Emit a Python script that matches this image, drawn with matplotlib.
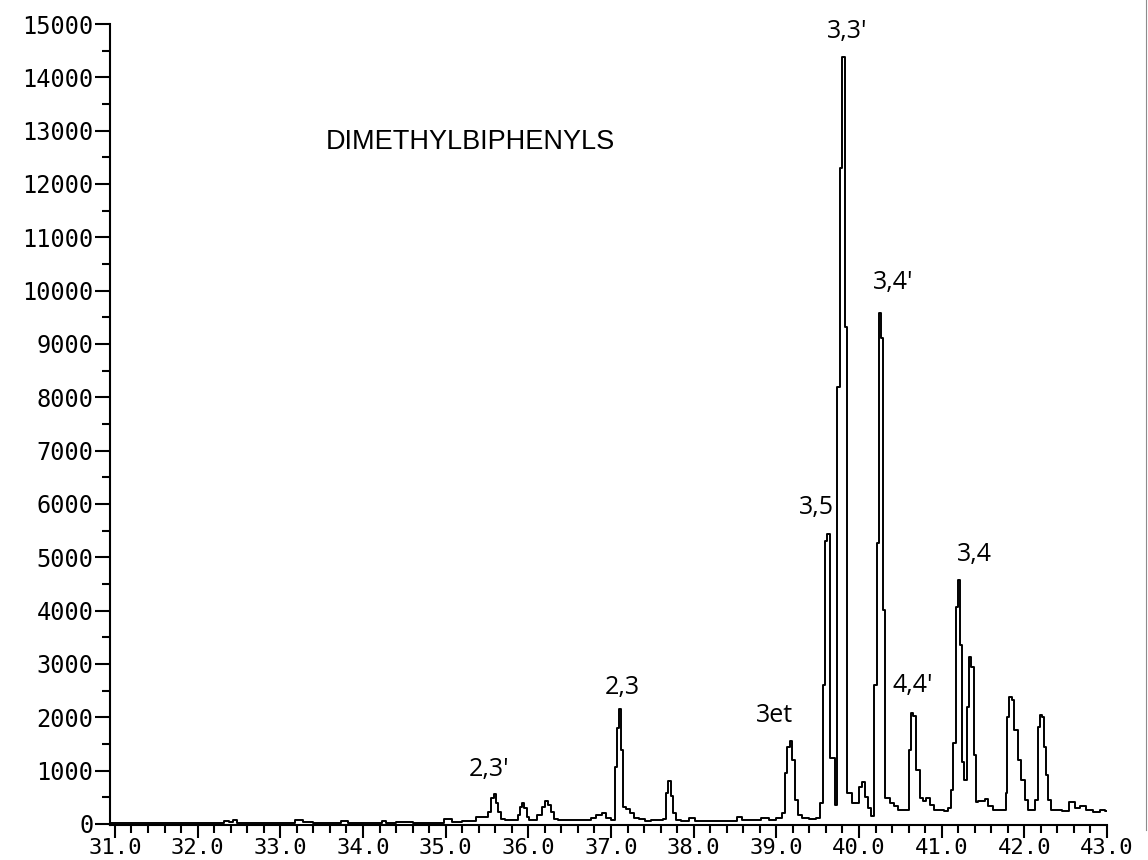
import matplotlib
matplotlib.use("Agg")
import matplotlib.pyplot as plt
from matplotlib.ticker import MultipleLocator, FixedLocator
from matplotlib.lines import Line2D

# retention time (min) and detector counts
rt = [30.95, 31.0, 31.1, 31.3, 31.5, 31.7, 31.9, 32.1, 32.3, 32.35, 32.4, 32.45, 32.5, 32.7, 32.9,
      33.1, 33.25, 33.3, 33.5, 33.7, 33.78, 33.85, 34.0, 34.2, 34.25, 34.3, 34.5, 34.7, 34.9, 35.05,
      35.1, 35.3,
      35.44, 35.5, 35.53, 35.57, 35.595, 35.62, 35.64, 35.69, 35.74, 35.8, 35.86,
      35.885, 35.92, 35.935, 35.97, 35.995, 36.03, 36.08,
      36.14, 36.18, 36.22, 36.26, 36.30, 36.33, 36.38, 36.5, 36.6, 36.74, 36.78, 36.86, 36.925, 36.96,
      37.03,
      37.06, 37.085, 37.11, 37.135, 37.16, 37.2, 37.25, 37.3, 37.38, 37.45, 37.52, 37.6, 37.65,
      37.68, 37.71, 37.735, 37.765, 37.8, 37.9, 37.99, 38.05, 38.2, 38.35, 38.5, 38.56, 38.62, 38.75,
      38.88, 38.95, 39.05,
      39.09, 39.12, 39.15, 39.18, 39.21, 39.24, 39.28, 39.33, 39.45, 39.5,
      39.55, 39.575, 39.605, 39.63, 39.66, 39.70, 39.72, 39.755, 39.785, 39.81, 39.84, 39.87, 39.9,
      39.94, 39.98, 40.02, 40.05, 40.09, 40.13, 40.17,
      40.2, 40.23, 40.255, 40.28, 40.305, 40.33, 40.36, 40.4, 40.45, 40.5, 40.56,
      40.59, 40.61, 40.645, 40.67, 40.71, 40.76, 40.8, 40.83, 40.88, 40.94, 41.0, 41.05, 41.1,
      41.12, 41.16, 41.18, 41.21, 41.235, 41.255, 41.29, 41.315, 41.345, 41.375, 41.4, 41.42, 41.46,
      41.5, 41.54, 41.58, 41.66, 41.76,
      41.785, 41.8, 41.83, 41.86, 41.895, 41.94, 41.98, 42.03, 42.07, 42.12,
      42.15, 42.17, 42.2, 42.225, 42.245, 42.27, 42.305, 42.34, 42.4, 42.5, 42.585, 42.63, 42.71,
      42.79, 42.87, 42.95, 43.0]

counts = [10, 20, 10, 15, 10, 20, 10, 15, 20, 60, 30, 70, 20, 15, 10,
          20, 80, 40, 15, 20, 60, 15, 20, 25, 60, 20, 30, 20, 25, 90,
          40, 50,
          130, 130, 225, 490, 560, 390, 225, 90, 75, 70, 80,
          170, 320, 390, 300, 130, 75, 80,
          170, 320, 430, 360, 225, 90, 75, 70, 75, 75, 110, 170, 200, 110,
          80,
          1070, 1800, 2150, 1390, 320, 280, 200, 110, 90, 60, 80, 70, 90,
          580, 800, 520, 210, 80, 60, 110, 60, 50, 55, 60, 130, 70, 80,
          110, 80, 110,
          200, 960, 1450, 1560, 1200, 450, 170, 110, 90, 110,
          390, 2600, 5300, 5440, 1240, 1240, 350, 8190, 12300, 14380, 9320, 580, 580,
          390, 390, 700, 790, 510, 300, 150,
          2600, 5270, 9580, 9110, 4010, 490, 480, 400, 330, 270, 260,
          260, 1390, 2080, 2030, 1010, 490, 430, 490, 360, 260, 270, 250, 300,
          640, 1520, 4070, 4575, 3360, 1160, 830, 2190, 3130, 2940, 1290, 410, 430,
          430, 470, 340, 260, 260,
          580, 2000, 2380, 2320, 1760, 1200, 830, 450, 260, 260,
          450, 1820, 2040, 2000, 1450, 920, 450, 260, 260, 250, 410, 300, 330,
          260, 225, 260, 240]

# handwritten peak labels
peak_names = ["3,3'", "3,4'", "3,5", "3,4", "4,4'", "2,3", "3et", "2,3'"]
peak_rt = [39.86, 40.41, 39.49, 41.40, 40.65, 37.14, 38.98, 35.53]
peak_y = [14850, 10150, 5940, 5050, 2600, 2550, 2040, 1030]

title = "DIMETHYLBIPHENYLS"

fig = plt.figure(figsize=(11.48, 8.6), dpi=100)
ax = fig.add_axes([110/1148, 1-825/860, (1107-110)/1148, (825-24)/860])

ax.plot(rt, counts, drawstyle="steps-mid", color="black", lw=1.4)

ax.set_xlim(30.94, 43.0)
ax.set_ylim(-20, 15000)

ax.xaxis.set_major_locator(FixedLocator([31 + i for i in range(13)]))
ax.xaxis.set_minor_locator(MultipleLocator(0.2))
ax.yaxis.set_major_locator(MultipleLocator(1000))
ax.yaxis.set_minor_locator(MultipleLocator(500))
ax.set_xticklabels(["%.1f" % v for v in range(31, 44)])

for s in ["top", "right"]:
    ax.spines[s].set_visible(False)
for s in ["left", "bottom"]:
    ax.spines[s].set_linewidth(1.5)

ax.tick_params(axis="y", which="major", length=11, width=1.5, direction="out", pad=1)
ax.tick_params(axis="x", which="major", length=9, width=1.5, direction="out", pad=0)
ax.tick_params(which="minor", length=6, width=1.5, direction="out")
for lab in ax.get_yticklabels():
    lab.set_family("DejaVu Sans Mono")
    lab.set_fontsize(17)
for lab in ax.get_xticklabels():
    lab.set_family("DejaVu Sans Mono")
    lab.set_fontsize(16)

ax.text(33.55, 12780, title, fontsize=19.5, family="Liberation Sans", va="center", ha="left")

for name, x, y in zip(peak_names, peak_rt, peak_y):
    ax.text(x, y, name, fontsize=18, family="Open Sans", color="black",
            ha="center", va="center")

# faint edge line from the scan
fig.add_artist(Line2D([1146/1148, 1146/1148], [1-830/860, 1.0], color="0.55", lw=0.8))

fig.savefig("out.png", dpi=100)
